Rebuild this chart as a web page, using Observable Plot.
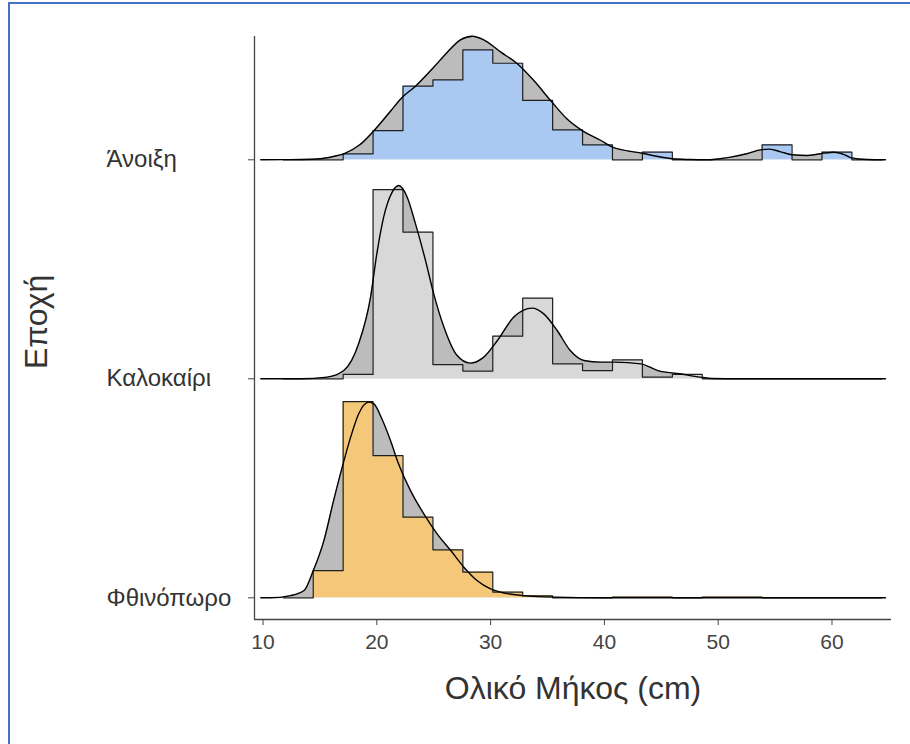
<!DOCTYPE html>
<html>
<head>
<meta charset="utf-8">
<script src="https://cdn.jsdelivr.net/npm/d3@7"></script>
<script src="https://cdn.jsdelivr.net/npm/@observablehq/plot@0.6"></script>
<style>
  body { margin: 0; background: #fff; }
  #wrap { position: relative; width: 910px; height: 744px; overflow: hidden; background: #fff; }
  #wrap svg { position: absolute; left: 0; top: 0; }
  #border { position: absolute; left: 8px; top: 2px; width: 1000px; height: 1000px;
            border: 2px solid #4472c4; box-sizing: border-box; pointer-events: none; }
</style>
</head>
<body>
<div id="wrap"><div id="border"></div></div>
<script>
// Seasons, top ridge first
const seasons = ["Άνοιξη", "Καλοκαίρι", "Φθινόπωρο"];
const seasonRow = [2, 1, 0];
const histFill = ["#a9c8f2", "#d8d8d8", "#f5c879"];
const densFill = "#bcbcbc";

// Histogram bin edges (cm) and bin densities per season
const binEdges = [11.78, 14.41, 17.04, 19.67, 22.30, 24.93, 27.56, 30.19, 32.82, 35.45,
                  38.08, 40.71, 43.34, 45.97, 48.60, 51.23, 53.86, 56.49, 59.12, 61.75, 64.38];
const histSpring = [0, 0, 0.0043, 0.0209, 0.0526, 0.0571, 0.0786, 0.0690, 0.0424, 0.0214,
                    0.0107, 0, 0.0055, 0, 0, 0, 0.0107, 0, 0.0055, 0];
const histSummer = [0, 0, 0.0031, 0.1352, 0.1048, 0.0102, 0.0055, 0.0305, 0.0576, 0.0107,
                    0.0059, 0.0136, 0.0012, 0.0031, 0, 0, 0, 0, 0, 0];
const histAutumn = [0, 0.0195, 0.1402, 0.1016, 0.0576, 0.0343, 0.0184, 0.0041, 0.0014, 0,
                    0, 0.0006, 0.0006, 0, 0.0006, 0.0006, 0, 0, 0, 0];

// Kernel density estimates (length in cm, density)
const springLen  = [9.8, 12, 13.3, 15, 16.2, 17.1, 18.5, 19.7, 21.2, 22.3, 23.4, 25.0, 26.2, 27.35,
                    28.4, 29.4, 30.9, 32.3, 33.8, 35.4, 36.7, 38.05, 39.7, 40.7, 42, 43.3, 44.6, 46,
                    47.5, 48.7, 50, 51.1, 52.5, 53.7, 54.5, 55.5, 56.5, 57.8, 59, 60.2, 61, 61.7, 63.1, 64.7];
const springDens = [0, 0.0001, 0.0002, 0.0007, 0.0024, 0.0043, 0.0107, 0.0204, 0.0347, 0.0452, 0.0526,
                    0.0661, 0.0769, 0.0857, 0.0883, 0.0857, 0.0769, 0.0690, 0.0566, 0.0411, 0.0293,
                    0.0209, 0.0138, 0.0090, 0.0064, 0.0047, 0.0025, 0.0007, 0.0002, 0, 0.0006, 0.0019,
                    0.0043, 0.0071, 0.0076, 0.0057, 0.0036, 0.0031, 0.0043, 0.0054, 0.0039, 0.0014, 0.0002, 0];

const summerLen  = [9.8, 13.3, 15.64, 17.1, 18.4, 19.45, 20.0, 20.6, 21.35, 21.93, 22.67, 23.4, 24.28,
                    25.0, 25.9, 27.06, 28.2, 29.4, 30.6, 32.04, 33.65, 34.67, 35.85, 37.0, 38.2, 39.66,
                    40.9, 43.2, 44.7, 46.6, 48.4, 49.5, 52, 64.7];
const summerDens = [0, 0, 0.0012, 0.0059, 0.0250, 0.0584, 0.0893, 0.1155, 0.1334, 0.1381, 0.1298,
                    0.1107, 0.0845, 0.0607, 0.0369, 0.0166, 0.0112, 0.0155, 0.0274, 0.0441, 0.0505,
                    0.0464, 0.0345, 0.0202, 0.0131, 0.0119, 0.0119, 0.0107, 0.0059, 0.0036, 0.0012,
                    0.0002, 0, 0];

const autumnLen  = [9.8, 10.66, 12.42, 13.6, 14.41, 15.35, 16.2, 16.96, 17.7, 18.4, 19.3, 19.74, 20.47,
                    21.2, 21.9, 22.96, 24.13, 25.3, 26.5, 27.65, 28.8, 30.0, 31.2, 32.9, 35.5, 40, 50, 64.7];
const autumnDens = [0, 0, 0.0016, 0.0052, 0.0193, 0.0409, 0.0695, 0.0934, 0.1148, 0.1314, 0.1398,
                    0.1386, 0.1274, 0.1124, 0.0959, 0.0766, 0.0600, 0.0457, 0.0338, 0.0219, 0.0124,
                    0.0064, 0.0034, 0.0016, 0.0005, 0.0001, 0.0001, 0];

const xTicks = [10, 20, 30, 40, 50, 60];
const xTitle = "Ολικό Μήκος (cm)";
const yTitle = "Εποχή";

// Ridge height of one density unit, in ridge spacings
const ridgeScale = 6.39;
const xDomain = [9.25, 65.23];
const yDomain = [-0.099, 2.563];

const hists = [histSpring, histSummer, histAutumn];
const densLens = [springLen, summerLen, autumnLen];
const densVals = [springDens, summerDens, autumnDens];

const marks = [];
seasons.forEach((s, i) => {
  const row = seasonRow[i];
  const dens = densLens[i].map((x, k) => ({x, base: row, top: row + densVals[i][k] * ridgeScale}));
  const hist = binEdges.map((x, k) => ({x, base: row, top: row + (k < hists[i].length ? hists[i][k] : 0) * ridgeScale}));
  marks.push(
    Plot.area(dens, {x1: "x", y1: "base", y2: "top", fill: densFill, curve: "monotone-x"}),
    Plot.area(hist, {x1: "x", y1: "base", y2: "top", fill: histFill[i], curve: "step-after"}),
    Plot.line(hist, {x: "x", y: "top", curve: "step-after", stroke: "#1e1e1e", strokeWidth: 1.2}),
    Plot.line(dens, {x: "x", y: "top", curve: "monotone-x", stroke: "#000", strokeWidth: 1.4})
  );
});

const labelFont = "'Liberation Sans', Arial, sans-serif";

const chart = Plot.plot({
  width: 910,
  height: 744,
  marginLeft: 254,
  marginRight: 19,
  marginTop: 36,
  marginBottom: 125,
  style: {fontFamily: labelFont, background: "transparent"},
  x: {domain: xDomain},
  y: {domain: yDomain},
  marks: [
    ...marks,
    Plot.ruleX([xDomain[0]], {stroke: "#444", strokeWidth: 1.3}),
    Plot.ruleY([yDomain[0]], {stroke: "#444", strokeWidth: 1.3}),
    Plot.axisX({ticks: xTicks, tickSize: 6, tickPadding: 9, fontSize: 21, color: "#444", label: null}),
    Plot.axisY({ticks: seasonRow, tickFormat: () => "", tickSize: 6, color: "#444", label: null}),
    // Season names, left-aligned in the margin
    Plot.text(seasons, {x: xDomain[0], y: seasonRow, text: d => d, textAnchor: "start", dx: -148,
                        fontSize: 24, fill: "#333"}),
    Plot.text([xTitle], {text: d => d, frameAnchor: "bottom", dy: 79, fontSize: 32, fill: "#333"}),
    // Vertical axis title, just above the middle ridge's label
    Plot.text([yTitle], {text: d => d, x: xDomain[0], y: [1.26], dx: -218, rotate: -90, fontSize: 32, fill: "#333"})
  ]
});

document.getElementById("wrap").prepend(chart);
</script>
</body>
</html>
